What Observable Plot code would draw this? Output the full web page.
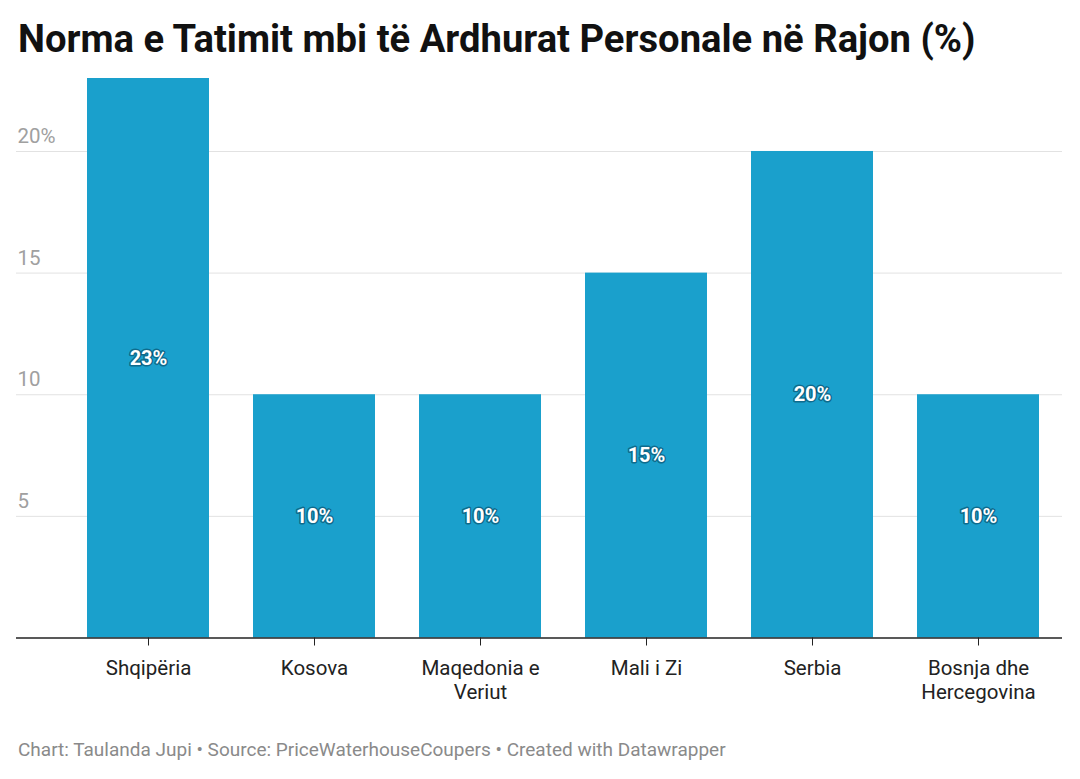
<!DOCTYPE html>
<html>
<head>
<meta charset="utf-8">
<script src="https://cdn.jsdelivr.net/npm/d3@7"></script>
<script src="https://cdn.jsdelivr.net/npm/@observablehq/plot@0.6"></script>
<style>
  html, body { margin: 0; padding: 0; background: #fff; }
  body { width: 1080px; height: 779px; overflow: hidden; font-family: Roboto, "Noto Sans", sans-serif; }
  #title { position: absolute; left: 18px; top: 15px; font-size: 38.2px; font-weight: 700; color: #111; line-height: 48px; white-space: nowrap; }
  #chart { position: absolute; left: 0; top: 70px; }
  #footer { position: absolute; left: 18px; top: 737px; font-size: 19px; color: #8a8a8a; line-height: 26px; white-space: nowrap; }
</style>
</head>
<body>
<div id="title">Norma e Tatimit mbi të Ardhurat Personale në Rajon (%)</div>
<div id="chart"></div>
<div id="footer">Chart: Taulanda Jupi • Source: PriceWaterhouseCoupers • Created with Datawrapper</div>
<script>
const categories = ["Shqipëria", "Kosova", "Maqedonia e Veriut", "Mali i Zi", "Serbia", "Bosnja dhe Hercegovina"];
const tickLabels = ["Shqipëria", "Kosova", "Maqedonia e\nVeriut", "Mali i Zi", "Serbia", "Bosnja dhe\nHercegovina"];
const values = [23, 10, 10, 15, 20, 10];
const yTicks = [5, 10, 15, 20];
const yTickLabels = ["5", "10", "15", "20%"];

const data = categories.map((c, i) => ({category: c, value: values[i], label: values[i] + "%"}));
const labelOf = new Map(categories.map((c, i) => [c, tickLabels[i]]));
const yLabelOf = new Map(yTicks.map((t, i) => [t, yTickLabels[i]]));

const barColor = "#1aa0cc";

const chart = Plot.plot({
  width: 1080,
  height: 645,
  marginTop: 8,
  marginBottom: 77.5,
  marginLeft: 16,
  marginRight: 18,
  style: {fontFamily: "Roboto, sans-serif", background: "transparent"},
  x: {domain: categories, paddingInner: 0.265, paddingOuter: 0.1325, insetLeft: 48, insetRight: -1, label: null},
  y: {domain: [0, 23], label: null, axis: null},
  marks: [
    Plot.ruleY(yTicks, {stroke: "#e2e2e2", strokeWidth: 1}),
    Plot.text(yTicks, {y: d => d, text: d => yLabelOf.get(d), frameAnchor: "left", textAnchor: "start", dx: 1, dy: -15, fontSize: 20.5, fill: "#a0a0a0"}),
    Plot.barY(data, {x: "category", y: "value", fill: barColor}),
    Plot.ruleY([0], {stroke: "#222", strokeWidth: 1.5}),
    Plot.axisX({tickSize: 8, tickPadding: 12, fontSize: 20.5, color: "#222", tickFormat: d => labelOf.get(d), lineHeight: 1.17}),
    Plot.text(data, {x: "category", y: d => d.value / 2, text: "label", fill: "white", stroke: "rgba(0,40,60,0.45)", strokeWidth: 3, fontSize: 20, fontWeight: 700})
  ]
});
document.getElementById("chart").appendChild(chart);
</script>
</body>
</html>
